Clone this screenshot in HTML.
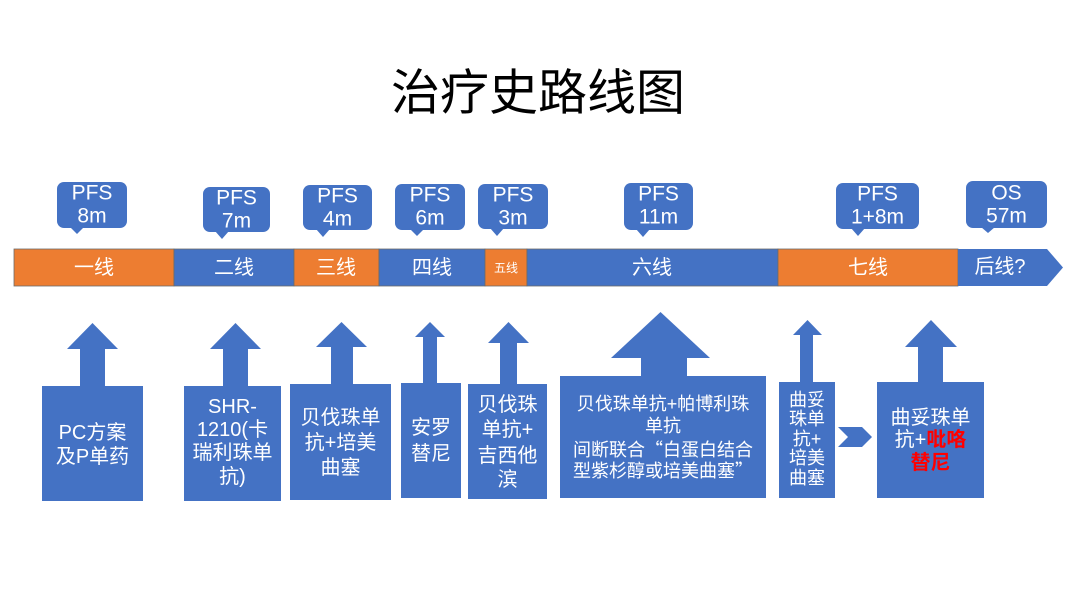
<!DOCTYPE html>
<html>
<head>
<meta charset="utf-8">
<style>
  html,body{margin:0;padding:0;background:#fff;}
  body{width:1080px;height:607px;overflow:hidden;position:relative;}
  svg{position:absolute;left:0;top:0;}
  text{font-family:"Liberation Sans","Noto Sans CJK SC",sans-serif;}
  text.cjk{font-family:"Noto Sans CJK SC",sans-serif;}
</style>
</head>
<body>
<svg width="1080" height="607" viewBox="0 0 1080 607" xmlns="http://www.w3.org/2000/svg">
  <!-- Title -->
  <text x="538" y="89" font-size="49" fill="#000" text-anchor="middle" dominant-baseline="central" class="cjk">治疗史路线图</text>

  <!-- Callouts -->
  <g fill="#4472C4">
    <rect x="57" y="182" width="70" height="46" rx="7"/><polygon points="70,227 84,227 77,234"/>
    <rect x="203" y="187" width="67" height="45" rx="7"/><polygon points="215,231 229,231 222,239"/>
    <rect x="303" y="185" width="69" height="45" rx="7"/><polygon points="316,229 330,229 323,237"/>
    <rect x="395" y="184" width="70" height="46" rx="7"/><polygon points="410,229 424,229 417,236"/>
    <rect x="478" y="184" width="70" height="45" rx="7"/><polygon points="490,228 504,228 497,236"/>
    <rect x="624" y="183" width="69" height="47" rx="7"/><polygon points="636,229 650,229 643,237"/>
    <rect x="836" y="183" width="83" height="46" rx="7"/><polygon points="851,228 865,228 858,236"/>
    <rect x="966" y="181" width="81" height="47" rx="7"/><polygon points="981,227 995,227 988,233"/>
  </g>
  <g fill="#fff" font-size="21" text-anchor="middle" dominant-baseline="central">
    <text x="92" y="193">PFS</text><text x="92" y="216">8m</text>
    <text x="236.5" y="198">PFS</text><text x="236.5" y="221">7m</text>
    <text x="337.5" y="196">PFS</text><text x="337.5" y="219">4m</text>
    <text x="430" y="195">PFS</text><text x="430" y="218">6m</text>
    <text x="513" y="195">PFS</text><text x="513" y="218">3m</text>
    <text x="658.5" y="194">PFS</text><text x="658.5" y="217">11m</text>
    <text x="877.5" y="194">PFS</text><text x="877.5" y="217">1+8m</text>
    <text x="1006.5" y="193">OS</text><text x="1006.5" y="216">57m</text>
  </g>

  <!-- Timeline bar -->
  <g stroke="#6b6b6b" stroke-width="0.8">
    <rect x="14" y="249" width="160" height="37" fill="#ED7D31"/>
    <rect x="174" y="249" width="120" height="37" fill="#4472C4"/>
    <rect x="294" y="249" width="85" height="37" fill="#ED7D31"/>
    <rect x="379" y="249" width="106" height="37" fill="#4472C4"/>
    <rect x="485" y="249" width="42" height="37" fill="#ED7D31"/>
    <rect x="527" y="249" width="251" height="37" fill="#4472C4"/>
    <rect x="778" y="249" width="180" height="37" fill="#ED7D31"/>
  </g>
  <polygon points="958,249 1047,249 1063,267.5 1047,286 958,286" fill="#4472C4"/>
  <g fill="#fff" font-size="20" text-anchor="middle" dominant-baseline="central">
    <text x="94" y="268">一线</text>
    <text x="234" y="268">二线</text>
    <text x="336" y="268">三线</text>
    <text x="432" y="268">四线</text>
    <text x="506" y="268" font-size="12">五线</text>
    <text x="652" y="268">六线</text>
    <text x="868" y="268">七线</text>
    <text x="1000" y="267">后线?</text>
  </g>

  <!-- Bottom arrow boxes -->
  <g fill="#4472C4">
    <rect x="42" y="386" width="101" height="115"/>
    <rect x="80" y="348" width="25" height="39"/>
    <polygon points="67,349 118,349 92.5,323"/>

    <rect x="184" y="386" width="97" height="115"/>
    <rect x="223" y="348" width="25" height="39"/>
    <polygon points="210,349 261,349 235.5,323"/>

    <rect x="290" y="384" width="101" height="116"/>
    <rect x="331" y="346" width="22" height="39"/>
    <polygon points="316,347 367,347 341.5,322"/>

    <rect x="401" y="383" width="60" height="115"/>
    <rect x="423" y="336" width="14" height="48"/>
    <polygon points="415,337 445,337 430,322"/>

    <rect x="468" y="384" width="79" height="115"/>
    <rect x="500" y="342" width="17" height="43"/>
    <polygon points="488,343 529,343 508.5,322"/>

    <rect x="560" y="376" width="206" height="122"/>
    <rect x="641" y="357" width="46" height="20"/>
    <polygon points="611,358 710,358 660.5,312"/>

    <rect x="779" y="382" width="56" height="116"/>
    <rect x="800" y="334" width="13" height="49"/>
    <polygon points="793,335 822,335 807.5,320"/>

    <rect x="877" y="382" width="107" height="116"/>
    <rect x="918" y="346" width="25" height="37"/>
    <polygon points="905,347 957,347 931,320"/>

    <polygon points="838,427 862,427 872,437 862,447 838,447 848,437"/>
  </g>

  <g fill="#fff" font-size="20" text-anchor="middle" dominant-baseline="central">
    <text x="92.5" y="433">PC方案</text>
    <text x="92.5" y="457">及P单药</text>

    <text x="232.5" y="407">SHR-</text>
    <text x="232.5" y="430">1210(卡</text>
    <text x="232.5" y="453">瑞利珠单</text>
    <text x="232.5" y="477">抗)</text>

    <text x="340.5" y="418">贝伐珠单</text>
    <text x="340.5" y="443">抗+培美</text>
    <text x="340.5" y="468">曲塞</text>

    <text x="431" y="428">安罗</text>
    <text x="431" y="454">替尼</text>

    <text x="507.5" y="405">贝伐珠</text>
    <text x="507.5" y="430">单抗+</text>
    <text x="507.5" y="456">吉西他</text>
    <text x="507.5" y="480">滨</text>
  </g>
  <g fill="#fff" font-size="18" text-anchor="middle" dominant-baseline="central">
    <text x="663" y="404">贝伐珠单抗+帕博利珠</text>
    <text x="663" y="426">单抗</text>
    <text x="663" y="449" class="cjk">间断联合“白蛋白结合</text>
    <text x="663" y="470" class="cjk">型紫杉醇或培美曲塞”</text>

    <text x="807" y="400">曲妥</text>
    <text x="807" y="419">珠单</text>
    <text x="807" y="439">抗+</text>
    <text x="807" y="458">培美</text>
    <text x="807" y="478">曲塞</text>
  </g>
  <g font-size="20" text-anchor="middle" dominant-baseline="central">
    <text x="930.5" y="418" fill="#fff">曲妥珠单</text>
    <text x="930.5" y="440"><tspan fill="#fff">抗+</tspan><tspan fill="#FF0000" font-weight="bold">吡咯</tspan></text>
    <text x="930.5" y="463" fill="#FF0000" font-weight="bold">替尼</text>
  </g>
</svg>
</body>
</html>
